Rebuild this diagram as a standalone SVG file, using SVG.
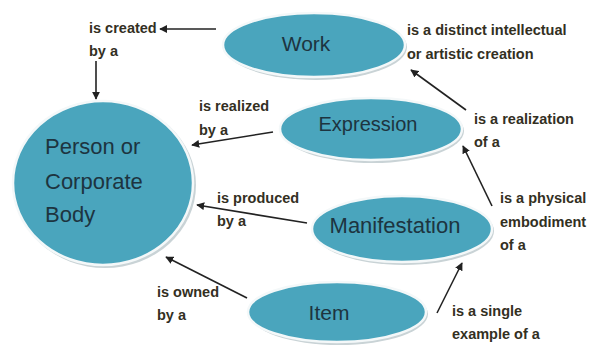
<svg xmlns="http://www.w3.org/2000/svg" width="591" height="349" viewBox="0 0 591 349">
  <defs>
    <marker id="arrow" viewBox="0 0 10 10" refX="9" refY="5" markerWidth="8" markerHeight="8" markerUnits="userSpaceOnUse" orient="auto">
      <path d="M0,0 L10,5 L0,10 z" fill="#222"/>
    </marker>
  </defs>
  <style>
    .shadow { fill: #c9d3d6; }
    .node { fill: #4aa5bd; stroke: #f4f8f9; stroke-width: 2.5; }
    .name { font-family: "Liberation Sans", Arial, sans-serif; fill: #1d3440; text-anchor: middle; }
    .left { text-anchor: start; }
    .lbl { font-family: "Liberation Sans", Arial, sans-serif; font-weight: bold; font-size: 14.5px; fill: #33301f; }
    .edge { stroke: #222; stroke-width: 1.6; fill: none; marker-end: url(#arrow); }
  </style>
  <rect width="591" height="349" fill="#ffffff"/>

  <g id="person">
    <ellipse class="shadow" cx="105" cy="185" rx="91" ry="83"/>
    <ellipse class="node" cx="103" cy="183" rx="90" ry="82"/>
    <text class="name left" font-size="22" x="45" y="154">Person or</text>
    <text class="name left" font-size="22" x="45" y="189">Corporate</text>
    <text class="name left" font-size="22" x="45" y="222">Body</text>
  </g>

  <g id="work">
    <ellipse class="shadow" cx="316" cy="47" rx="91" ry="33"/>
    <ellipse class="node" cx="314" cy="45" rx="91" ry="32"/>
    <text class="name" font-size="21" x="306" y="51">Work</text>
  </g>

  <g id="expression">
    <ellipse class="shadow" cx="373" cy="131" rx="91" ry="32"/>
    <ellipse class="node" cx="371" cy="129" rx="91" ry="31"/>
    <text class="name" font-size="20" x="368" y="131">Expression</text>
  </g>

  <g id="manifestation">
    <ellipse class="shadow" cx="404" cy="231" rx="90" ry="34"/>
    <ellipse class="node" cx="402" cy="229" rx="90" ry="33"/>
    <text class="name" font-size="22" x="395" y="233">Manifestation</text>
  </g>

  <g id="item">
    <ellipse class="shadow" cx="339" cy="314" rx="89" ry="31"/>
    <ellipse class="node" cx="337" cy="312" rx="89" ry="30"/>
    <text class="name" font-size="21" x="329" y="320">Item</text>
  </g>

  <g id="connectors">
    <line class="edge" x1="216" y1="29" x2="160" y2="29"/>
    <line class="edge" x1="96" y1="61" x2="96" y2="99"/>
    <line class="edge" x1="273" y1="132" x2="192" y2="145"/>
    <line class="edge" x1="307" y1="223" x2="197" y2="205"/>
    <line class="edge" x1="247" y1="298" x2="166" y2="257"/>
    <line class="edge" x1="466" y1="110" x2="411" y2="70"/>
    <line class="edge" x1="492" y1="206" x2="463" y2="146"/>
    <line class="edge" x1="437" y1="313" x2="462" y2="263"/>
  </g>

  <g id="labels">
    <text class="lbl" x="89" y="33">is created</text>
    <text class="lbl" x="89" y="56">by a</text>
    <text class="lbl" x="199" y="111">is realized</text>
    <text class="lbl" x="199" y="135">by a</text>
    <text class="lbl" x="217" y="203">is produced</text>
    <text class="lbl" x="217" y="226">by a</text>
    <text class="lbl" x="157" y="297">is owned</text>
    <text class="lbl" x="157" y="320">by a</text>
    <text class="lbl" x="407" y="35">is a distinct intellectual</text>
    <text class="lbl" x="407" y="59">or artistic creation</text>
    <text class="lbl" x="474" y="124">is a realization</text>
    <text class="lbl" x="474" y="147">of a</text>
    <text class="lbl" x="500" y="203">is a physical</text>
    <text class="lbl" x="500" y="227">embodiment</text>
    <text class="lbl" x="500" y="250">of a</text>
    <text class="lbl" x="452" y="316">is a single</text>
    <text class="lbl" x="452" y="339">example of a</text>
  </g>
</svg>
